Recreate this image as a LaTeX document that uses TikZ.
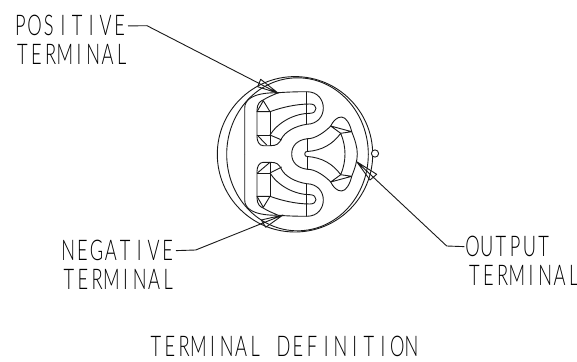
\documentclass[tikz,border=0pt]{standalone}
\usepackage{fontspec}
\newfontfamily\cadfont[FakeStretch=0.64]{Lato Light}
\makeatletter
\newcommand{\cadword}[1]{\@tfor\cadletter:=#1\do{\makebox[14.2pt]{\cadletter}}}
\makeatother
\tikzset{
  part/.style={line width=0.9pt, black!90, line join=round},
  termword/.style={font=\cadfont\fontsize{28.5}{28.5}\selectfont, text=black, anchor=base west, inner ysep=0pt, inner xsep=1pt},
}
\begin{document}
\begin{tikzpicture}[x=1pt,y=1pt]

      \useasboundingbox (0,-207) rectangle (577,154);

      % labels
      \node[termword] (posword) at (12,118) {\cadword{POSITIVE}};
      \node[termword] (posterm) at (14,89) {\cadword{TERMINAL}};
      \node[termword] (negword) at (60,-106.7) {\cadword{NEGATIVE}};
      \node[termword] (negterm) at (60.5,-135.3) {\cadword{TERMINAL}};
      \node[termword] (outword) at (464.3,-102.7) {\cadword{OUTPUT}};
      \node[termword] (outterm) at (466,-131) {\cadword{TERMINAL}\hspace{-8pt}};
      \node[termword] (titleword) at (147.5,-202) {\cadword{TERMINAL}\hspace{14.2pt}\cadword{DEFINITION}};

      % housing
      \draw[part] (295,-0.3) circle (77.7);
      \draw[part] (297.5,-0.3) ellipse (70.8 and 76.5);
      \draw[part,fill=white] (375,0.5) circle (3.6);

      % upper half and its mirror image
      \foreach \s in {1,-1} {
          \begin{scope}[yscale=\s]

          \draw[part] (244.7,0) -- (244.7,46) .. controls (244.7,54) and (252,61.5) .. (278.3,61.3)
              .. controls (288,62) and (298,62.3) .. (306.7,62.3)
              .. controls (318,62.3) and (323.3,54) .. (323.3,46)
              .. controls (323.3,38) and (318,30) .. (306.7,29.7)
              .. controls (295,28) and (285,22) .. (281.7,15.7)
              .. controls (279,10) and (277,8.3) .. (270,8.3) -- (263.3,8.3)
              .. controls (259,8.3) and (257,13) .. (257,17.3) -- (257,44)
              .. controls (257,50) and (260,53) .. (264,54.5)
              .. controls (268,57) and (273,59) .. (278.3,61.3);

          \draw[part] (257,42.3) -- (263.3,53.3) -- (270,42.3) -- cycle;
          \draw[part] (270,42.3) -- (270,8.3);
          \draw[part] (257,19) -- (270,19);
          \draw[part] (306.7,62.3) -- (306.7,29.7);

          \draw[part] (270,42.3) .. controls (280,46) and (295,50) .. (310,50)
              .. controls (314,50) and (316,48) .. (316,45.7)
              .. controls (316,43) and (314,40.7) .. (310,40.7)
              .. controls (295,40.7) and (278,32) .. (270,19);

          % output side
          \draw[part] (291.7,0) .. controls (291.7,9) and (298,14) .. (307.3,15.3)
              .. controls (315,15) and (325,22) .. (330.7,28)
              .. controls (333,33) and (337,37) .. (341.5,37)
              .. controls (346,37) and (350,30) .. (351.7,22.3)
              .. controls (355,14) and (357.3,7) .. (357.3,0);
          \draw[part] (307.3,15.3) -- (307.3,2.5);
          \draw[part] (304.7,0) .. controls (304.7,2) and (306,2.5) .. (307.3,2.5)
              .. controls (322,3.5) and (333,10) .. (340.7,20.7)
              .. controls (343.5,14) and (345,7) .. (345,0);
          \draw[part] (330.7,28) -- (340.7,20.7) -- (351.7,22.3) -- cycle;

          \end{scope}
      }

      % the two pockets differ here
      \draw[part] (257,19) -- (266.7,9);
      \draw[part] (270,19) -- (281.7,14);
      \draw[part] (257,-19.3) -- (270,-8.3);
      \draw[part] (270,-19) -- (281.7,-13);

      % leaders
      \coordinate (posbend) at (147,128.3);
      \coordinate (postip) at (278.3,60.7);
      \coordinate (negbend) at (195.7,-96);
      \coordinate (negtip) at (283,-61);
      \coordinate (outbend) at (446.7,-92);
      \coordinate (outtip) at (356.7,-7.7);

      \draw[part] (posword.east) -- (posbend) -- (postip) -- (260.7,74.7) -- (257.7,67.3) -- (postip);
      \draw[part] (negword.east) -- (negbend) -- (negtip) -- (261.3,-66) -- (265.7,-73.3) -- (negtip);
      \draw[part] (outword.west) -- (outbend) -- (outtip) -- (376.7,-20.3) -- (370,-26) -- (outtip);

\end{tikzpicture}
\end{document}
